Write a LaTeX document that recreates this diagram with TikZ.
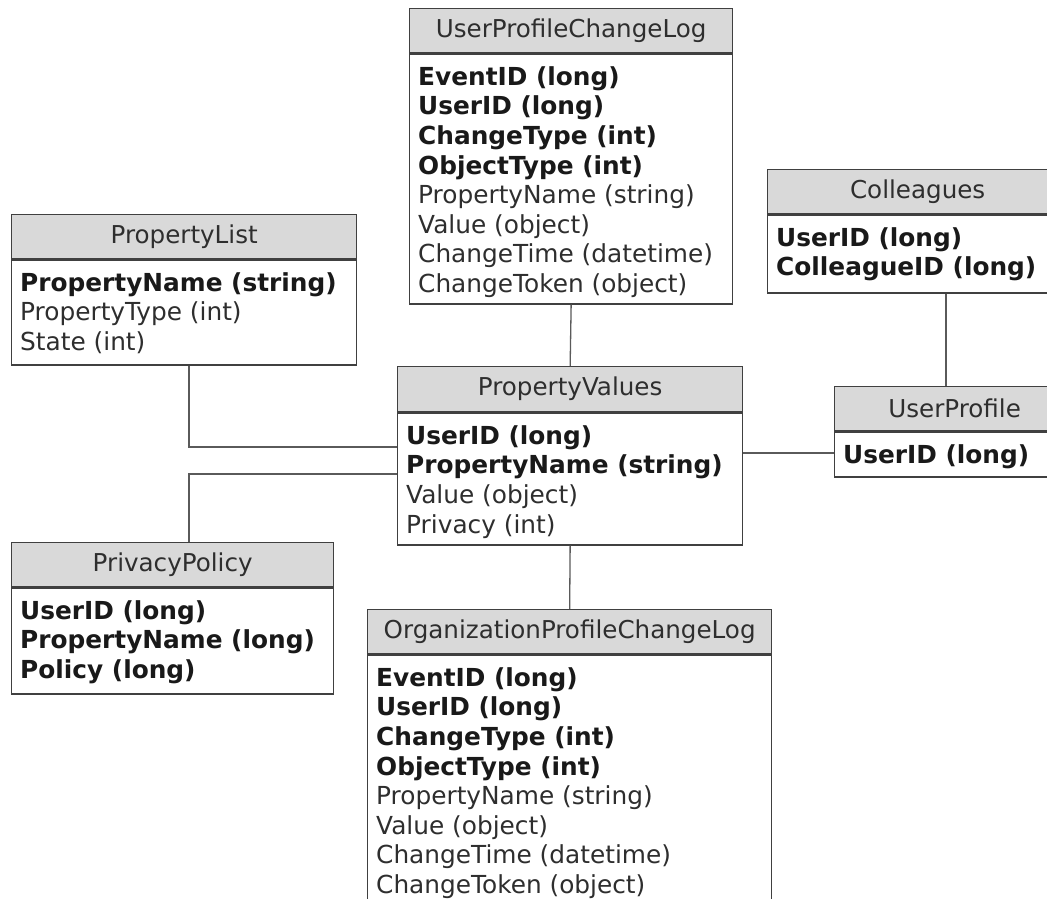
\documentclass[tikz,border=0pt]{standalone}
\usepackage{fontspec}
\setmainfont{DejaVu Sans}
\usetikzlibrary{calc}
\definecolor{hdrfill}{HTML}{D9D9D9}
\definecolor{edge}{HTML}{404040}
\definecolor{link}{HTML}{5A5A5A}
\definecolor{txt}{HTML}{2E2E2E}
\tikzset{
  hdr/.style={draw=edge, line width=1.3pt, fill=hdrfill, inner sep=0pt, text=txt,
    font=\fontsize{24.6}{29}\selectfont},
  bdy/.style={draw=edge, line width=1.3pt, fill=white, inner sep=0pt},
  rowtxt/.style={inner sep=0pt, text=txt, font=\fontsize{24.8}{29}\selectfont},
  linkline/.style={draw=link, line width=1.3pt}
}
\newcommand\keyrow[1]{{\bfseries\color{black!90}#1}}
% #1 name, #2 x, #3 y, #4 width, #5 header height, #6 body height, #7 title, #8 rows
\newcommand\erdtable[8]{%
  \node[hdr, minimum width=#4pt, minimum height=#5pt, anchor=north west] (#1) at (#2,#3) {#7};
  \node[bdy, minimum width=#4pt, minimum height=#6pt, anchor=north west] (#1-b) at (#1.south west) {};
  \foreach[count=\i] \r in {#8}
    \node[rowtxt, anchor=base west] (#1-r\i) at ($(#1-b.north west)+(9pt,{-32pt-(\i-1)*29.6pt})$) {\r};
}
\begin{document}
\begin{tikzpicture}[x=1pt,y=-1pt]
\useasboundingbox (0,0) rectangle (1047,898);
\fill[white] (0,0) rectangle (1047,898);

\erdtable{ucl}{409}{8}{323}{44}{250}{UserProfileChangeLog}{
  \keyrow{EventID (long)}, \keyrow{UserID (long)}, \keyrow{ChangeType (int)}, \keyrow{ObjectType (int)},
  PropertyName (string), Value (object), ChangeTime (datetime), ChangeToken (object)}

\erdtable{pl}{11}{214}{345}{44}{105}{PropertyList}{
  \keyrow{PropertyName (string)}, PropertyType (int), State (int)}

\erdtable{col}{767}{169}{300}{44}{78}{Colleagues}{
  \keyrow{UserID (long)}, \keyrow{ColleagueID (long)}}

\erdtable{pv}{397}{366}{345}{45}{132}{PropertyValues}{
  \keyrow{UserID (long)}, \keyrow{PropertyName (string)}, Value (object), Privacy (int)}

\erdtable{up}{834}{386}{240}{44}{45}{UserProfile}{
  \keyrow{UserID (long)}}

\erdtable{pp}{11}{542}{322}{44}{106}{PrivacyPolicy}{
  \keyrow{UserID (long)}, \keyrow{PropertyName (long)}, \keyrow{Policy (long)}}

\erdtable{ocl}{367}{609}{404}{44}{330}{OrganizationProfileChangeLog}{
  \keyrow{EventID (long)}, \keyrow{UserID (long)}, \keyrow{ChangeType (int)}, \keyrow{ObjectType (int)},
  PropertyName (string), Value (object), ChangeTime (datetime), ChangeToken (object)}

\coordinate (j1) at (189,447);
\coordinate (j2) at (189,474);
\coordinate (j3) at (0,453);
\coordinate (j4) at (946,0);

\draw[linkline] (ucl-b.south) -- (pv.north);
\draw[linkline] (pl-b.south -| j1) |- (pv-b.west |- j1);
\draw[linkline] (pp.north -| j2) |- (pv-b.west |- j2);
\draw[linkline] (pv-b.east |- j3) -- (up-b.west |- j3);
\draw[linkline] (col-b.south -| j4) -- (up.north -| j4);
\draw[linkline] (pv-b.south) -- (ocl.north);
\end{tikzpicture}
\end{document}
